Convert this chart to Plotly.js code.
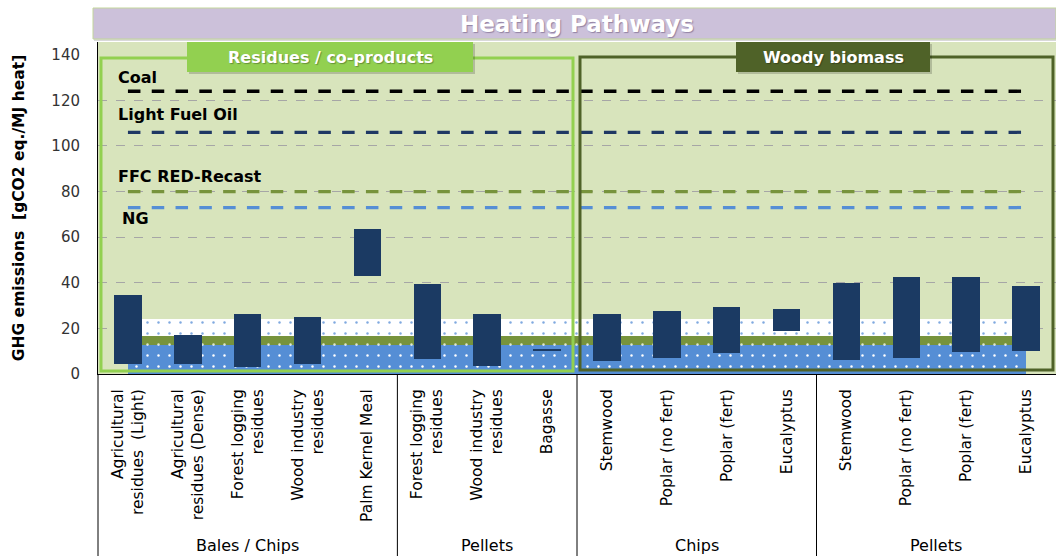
<!DOCTYPE html>
<html>
<head>
<meta charset="utf-8">
<script src="https://cdn.plot.ly/plotly-3.0.1.min.js"></script>
<style>html,body{margin:0;padding:0;background:#fff;}#chart{width:1056px;height:556px;}</style>
</head>
<body>
<div id="chart"></div>
<script>
// ---- data ----
const categories = [
  "Agricultural<br>residues\u00a0\u00a0(Light)", "Agricultural<br>residues (Dense)", "Forest logging<br>residues",
  "Wood industry<br>residues", "Palm Kernel Meal",
  "Forest logging<br>residues", "Wood industry<br>residues", "Bagasse",
  "Stemwood", "Poplar (no fert)", "Poplar (fert)", "Eucalyptus",
  "Stemwood", "Poplar (no fert)", "Poplar (fert)", "Eucalyptus"
];
const emissionLow  = [4.2, 4.2, 3.2, 4.2, 43.1, 6.7, 3.7, 10.2, 5.6, 7.1, 9.3, 18.7, 6.0, 7.1, 9.7, 10.3];
const emissionHigh = [34.5, 17.0, 26.5, 25.1, 63.6, 39.5, 26.1, 11.0, 26.1, 27.5, 29.6, 28.6, 39.9, 42.4, 42.4, 38.5];

const groupNames = ["Bales / Chips", "Pellets", "Chips", "Pellets"];
const groupSizes = [5, 3, 4, 4];

const refNames  = ["Coal", "Light Fuel Oil", "FFC RED-Recast", "NG"];
const refValues = [124, 106, 80, 73];

const bandBottoms = [0, 12.6, 16.5];
const bandTops    = [12.6, 16.5, 24.2];

const yTickVals = [0, 20, 40, 60, 80, 100, 120, 140];
const yGridVals = [20, 40, 60, 80, 100, 120];

// ---- styling ----
const FONT = "DejaVu Sans, Verdana, sans-serif";
const refColors = ["#000000", "#1f3864", "#77933c", "#558ed5"];
const refWidths = [3.4, 3.2, 3.2, 3.2];
const refLabelShift = [14, 18, 15, -11];
const refLabelX = [-0.2, -0.2, -0.2, -0.14];
const bandBg = ["#558ed5", "#77933c", "#ffffff"];
const bandFg = ["#ffffff", "#dfe8cc", "#7fa9e0"];

// plot-area geometry (px) for paper conversions
const L = 98, T = 42, W = 958, H = 332;
const px = v => (v - L) / W;
const py = v => (T + H - v) / H;

const n = categories.length;
const idx = categories.map((_, i) => i);

const traces = [];
// background bands (drawn first, as bars spanning first..last category centre)
bandBottoms.forEach((b, k) => {
  traces.push({
    type: "bar", x: [(n - 1) / 2], y: [bandTops[k] - b], base: [b], width: [n - 1],
    marker: { color: bandBg[k], line: { width: 0 },
      pattern: { shape: ".", bgcolor: bandBg[k], fgcolor: bandFg[k], size: 11, solidity: 0.04, fillmode: "replace" } },
    hoverinfo: "skip", showlegend: false
  });
});
// emission range bars
traces.push({
  type: "bar", x: idx, base: emissionLow, y: emissionHigh.map((h, i) => h - emissionLow[i]),
  width: 0.46, marker: { color: "#1b3a63", line: { width: 0 } },
  customdata: emissionHigh, hovertemplate: "%{base:.1f} – %{customdata:.1f}<extra></extra>",
  showlegend: false
});
// fossil fuel comparators
refValues.forEach((v, k) => {
  traces.push({
    type: "scatter", mode: "lines", x: [0, n - 1], y: [v, v], name: refNames[k],
    line: { color: refColors[k], width: refWidths[k], dash: "12.5px,11.3px" },
    hoverinfo: "name+y", showlegend: false
  });
});

// group positions
const groupStart = [];
let acc = 0;
groupSizes.forEach(s => { groupStart.push(acc); acc += s; });
const groupCenters = groupStart.map((s, k) => s + (groupSizes[k] - 1) / 2);
const dividers = groupStart.slice(1).map(s => s - 0.5);

const shapes = [
  // title bar shadow + bar
  { type: "rect", xref: "paper", yref: "paper", x0: px(94), x1: px(1057), y0: py(41), y1: py(10),
    fillcolor: "rgba(0,0,0,0.15)", line: { width: 0 }, layer: "above" },
  { type: "rect", xref: "paper", yref: "paper", x0: px(93), x1: px(1056), y0: py(39), y1: py(8),
    fillcolor: "#ccc1da", line: { width: 1, color: "#c3d69b" }, layer: "above" },
  // group frames
  { type: "rect", xref: "paper", yref: "paper", x0: px(101), x1: px(573), y0: py(371), y1: py(58),
    fillcolor: "rgba(0,0,0,0)", line: { width: 3, color: "#92d050" }, layer: "above" },
  { type: "rect", xref: "paper", yref: "paper", x0: px(580), x1: px(1053), y0: py(370), y1: py(57),
    fillcolor: "rgba(0,0,0,0)", line: { width: 3, color: "#4f6228" }, layer: "above" },
  // label boxes (shadow + box)
  { type: "rect", xref: "paper", yref: "paper", x0: px(189), x1: px(475), y0: py(74), y1: py(44),
    fillcolor: "rgba(0,0,0,0.18)", line: { width: 0 }, layer: "above" },
  { type: "rect", xref: "paper", yref: "paper", x0: px(187), x1: px(473), y0: py(72), y1: py(42),
    fillcolor: "#92d050", line: { width: 0 }, layer: "above" },
  { type: "rect", xref: "paper", yref: "paper", x0: px(738), x1: px(932), y0: py(74), y1: py(44),
    fillcolor: "rgba(0,0,0,0.18)", line: { width: 0 }, layer: "above" },
  { type: "rect", xref: "paper", yref: "paper", x0: px(736), x1: px(930), y0: py(72), y1: py(42),
    fillcolor: "#4f6228", line: { width: 0 }, layer: "above" },
  // left axis extension
  { type: "line", xref: "paper", yref: "paper", x0: 0, x1: 0, y0: 0, y1: py(556),
    line: { color: "#000", width: 1 } }
];
dividers.forEach(d => shapes.push({
  type: "line", xref: "x", yref: "paper", x0: d, x1: d, y0: 0, y1: py(556),
  line: { color: "#000", width: 1 }
}));

const annotations = [
  { xref: "paper", yref: "paper", x: px(577), y: py(24), xanchor: "center", yanchor: "middle",
    text: "<b>Heating Pathways</b>", showarrow: false,
    font: { family: FONT, size: 23, color: "#ffffff", shadow: "1px 1px 1px rgba(90,70,110,0.5)" } },
  { xref: "paper", yref: "paper", x: px(330), y: py(57), xanchor: "center", yanchor: "middle",
    text: "<b>Residues / co-products</b>", showarrow: false,
    font: { family: FONT, size: 16, color: "#ffffff", shadow: "1px 1px 1px rgba(0,0,0,0.3)" } },
  { xref: "paper", yref: "paper", x: px(833), y: py(57), xanchor: "center", yanchor: "middle",
    text: "<b>Woody biomass</b>", showarrow: false,
    font: { family: FONT, size: 16, color: "#ffffff", shadow: "1px 1px 1px rgba(0,0,0,0.3)" } }
];
refNames.forEach((nm, k) => annotations.push({
  xref: "x", yref: "y", x: refLabelX[k], y: refValues[k], yshift: refLabelShift[k],
  xanchor: "left", yanchor: "middle", text: "<b>" + nm + "</b>", showarrow: false,
  font: { family: FONT, size: 16, color: "#000" }
}));
groupNames.forEach((g, k) => annotations.push({
  xref: "x", yref: "paper", x: groupCenters[k], y: py(545), xanchor: "center", yanchor: "middle",
  text: g, showarrow: false, font: { family: FONT, size: 16, color: "#000" }
}));

const layout = {
  width: 1056, height: 556,
  margin: { l: L, r: 1056 - L - W, t: T, b: 556 - T - H, pad: 0 },
  paper_bgcolor: "#ffffff", plot_bgcolor: "#d8e4bc",
  barmode: "overlay", bargap: 0,
  font: { family: FONT, color: "#000" },
  showlegend: false,
  xaxis: {
    range: [-0.5, n - 0.5], tickmode: "array", tickvals: idx, ticktext: categories,
    tickangle: -90, tickfont: { family: FONT, size: 15.5, color: "#000" },
    ticks: "", ticklabelstandoff: 8,
    showline: true, linecolor: "#000", linewidth: 1, showgrid: false, zeroline: false, fixedrange: true
  },
  yaxis: {
    range: [0, 145.6], tickmode: "array", tickvals: yTickVals,
    tickfont: { family: FONT, size: 15, color: "#333" }, ticks: "", ticklabelstandoff: 14,
    showgrid: false,
    minor: { tickmode: "array", tickvals: yGridVals, showgrid: true, gridcolor: "#a6a6a6", griddash: "dash", gridwidth: 1, ticks: "" },
    showline: true, linecolor: "#000", linewidth: 1, zeroline: false, fixedrange: true,
    title: { text: "<b>GHG emissions\u00a0\u00a0[gCO2 eq./MJ heat]</b>", standoff: 22,
      font: { family: FONT, size: 15.5, color: "#000" } }
  },
  shapes: shapes,
  annotations: annotations
};

Plotly.newPlot("chart", traces, layout, { displayModeBar: false });
</script>
</body>
</html>
